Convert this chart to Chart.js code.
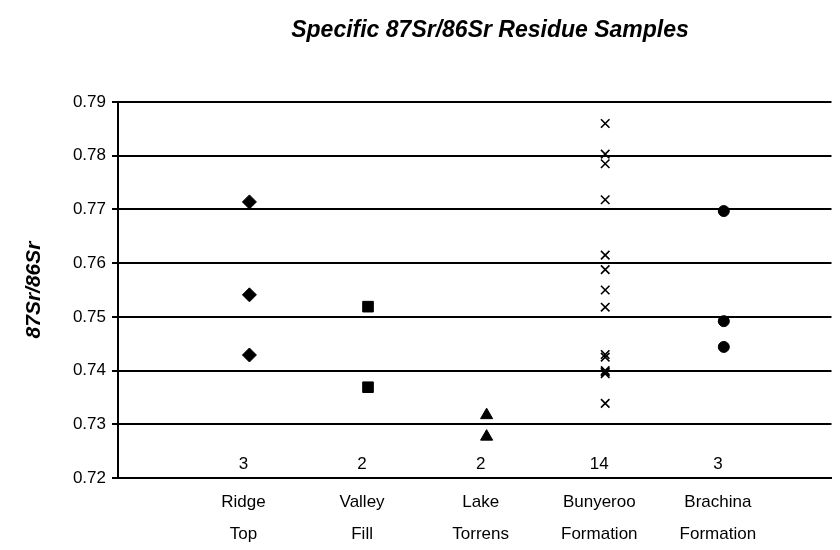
<!DOCTYPE html>
<html>
<head>
<meta charset="utf-8">
<script src="https://cdn.jsdelivr.net/npm/chart.js@4"></script>
<style>
  html, body { margin: 0; padding: 0; background: #fff; }
  #wrap { width: 840px; height: 550px; }
</style>
</head>
<body>
<div id="wrap"><canvas id="c" width="840" height="550"></canvas></div>
<script>
// sample groups, in axis order
const categories = [['Ridge', 'Top'], ['Valley', 'Fill'], ['Lake', 'Torrens'], ['Bunyeroo', 'Formation'], ['Brachina', 'Formation']];
const sampleCounts = [3, 2, 2, 14, 3];
const yTicks = [0.72, 0.73, 0.74, 0.75, 0.76, 0.77, 0.78, 0.79];

const ridgeTop = [0.7714, 0.7541, 0.7429];
const valleyFill = [0.7519, 0.7369];
const lakeTorrens = [0.7317, 0.7277];
const bunyeroo = [0.7860, 0.7803, 0.7785, 0.7718, 0.7615, 0.7588, 0.7550, 0.7518, 0.7430, 0.7425, 0.7400, 0.7397, 0.7394, 0.7339];
const brachina = [0.7697, 0.7492, 0.7444];

const groups = [ridgeTop, valleyFill, lakeTorrens, bunyeroo, brachina];
const markers = ['rectRot', 'rect', 'triangle', 'crossRot', 'circle'];
const radii = [7, 7.5, 7, 6, 5.5];

const FONT = "'Liberation Sans', Arial, sans-serif";

const datasets = groups.map((vals, i) => ({
  label: categories[i].join(' '),
  data: vals.map(v => ({x: i + 1, y: v})),
  xAxisID: 'xp',
  pointStyle: markers[i],
  pointRadius: radii[i],
  pointHoverRadius: radii[i],
  backgroundColor: '#000',
  borderColor: '#000',
  borderWidth: markers[i] === 'crossRot' ? 1.6 : 1,
  showLine: false
}));

// counts written just above the bottom axis + chart title
const extras = {
  id: 'extras',
  afterDatasetsDraw(chart) {
    const ctx = chart.ctx;
    const xs = chart.scales.x, ys = chart.scales.y;
    ctx.save();
    ctx.fillStyle = '#000';
    ctx.textAlign = 'center';
    ctx.textBaseline = 'middle';
    ctx.font = '17px ' + FONT;
    sampleCounts.forEach((n, i) => {
      ctx.fillText(String(n), xs.getPixelForValue(i + 1), ys.getPixelForValue(0.7225));
    });
    ctx.font = 'italic bold 23px ' + FONT;
    ctx.fillText('Specific 87Sr/86Sr Residue Samples', 490, 31);
    ctx.restore();
  }
};

new Chart(document.getElementById('c'), {
  type: 'scatter',
  data: {datasets},
  options: {
    responsive: false,
    animation: false,
    layout: {padding: {top: 102, left: 0, right: 0, bottom: 0}},
    plugins: {
      legend: {display: false},
      tooltip: {enabled: false}
    },
    scales: {
      x: {
        type: 'linear',
        min: -0.058,
        max: 5.958,
        afterBuildTicks: s => { s.ticks = categories.map((c, i) => ({value: i + 1})); },
        afterFit: s => { s.height = 72; },
        ticks: {
          color: '#000',
          font: {family: FONT, size: 17, lineHeight: 1.85},
          padding: 1,
          maxRotation: 0,
          autoSkip: false,
          callback: v => categories[v - 1]
        },
        grid: {display: false},
        border: {display: true, color: '#000', width: 2}
      },
      // the markers sit a little right of their labels
      xp: {
        type: 'linear',
        display: false,
        min: -0.108,
        max: 5.908
      },
      y: {
        min: 0.72,
        max: 0.79,
        afterBuildTicks: s => { s.ticks = yTicks.map(v => ({value: v})); },
        afterFit: s => { s.width = 118; },
        ticks: {
          color: '#000',
          font: {family: FONT, size: 17},
          padding: 6,
          callback: v => v.toFixed(2)
        },
        grid: {color: '#000', lineWidth: 2, tickLength: 6, tickColor: '#000'},
        border: {display: true, color: '#000', width: 2},
        title: {
          display: true,
          text: '87Sr/86Sr',
          color: '#000',
          font: {family: FONT, size: 21, style: 'italic', weight: 'bold'},
          padding: {top: 22, bottom: 0}
        }
      }
    }
  },
  plugins: [extras]
});
</script>
</body>
</html>
